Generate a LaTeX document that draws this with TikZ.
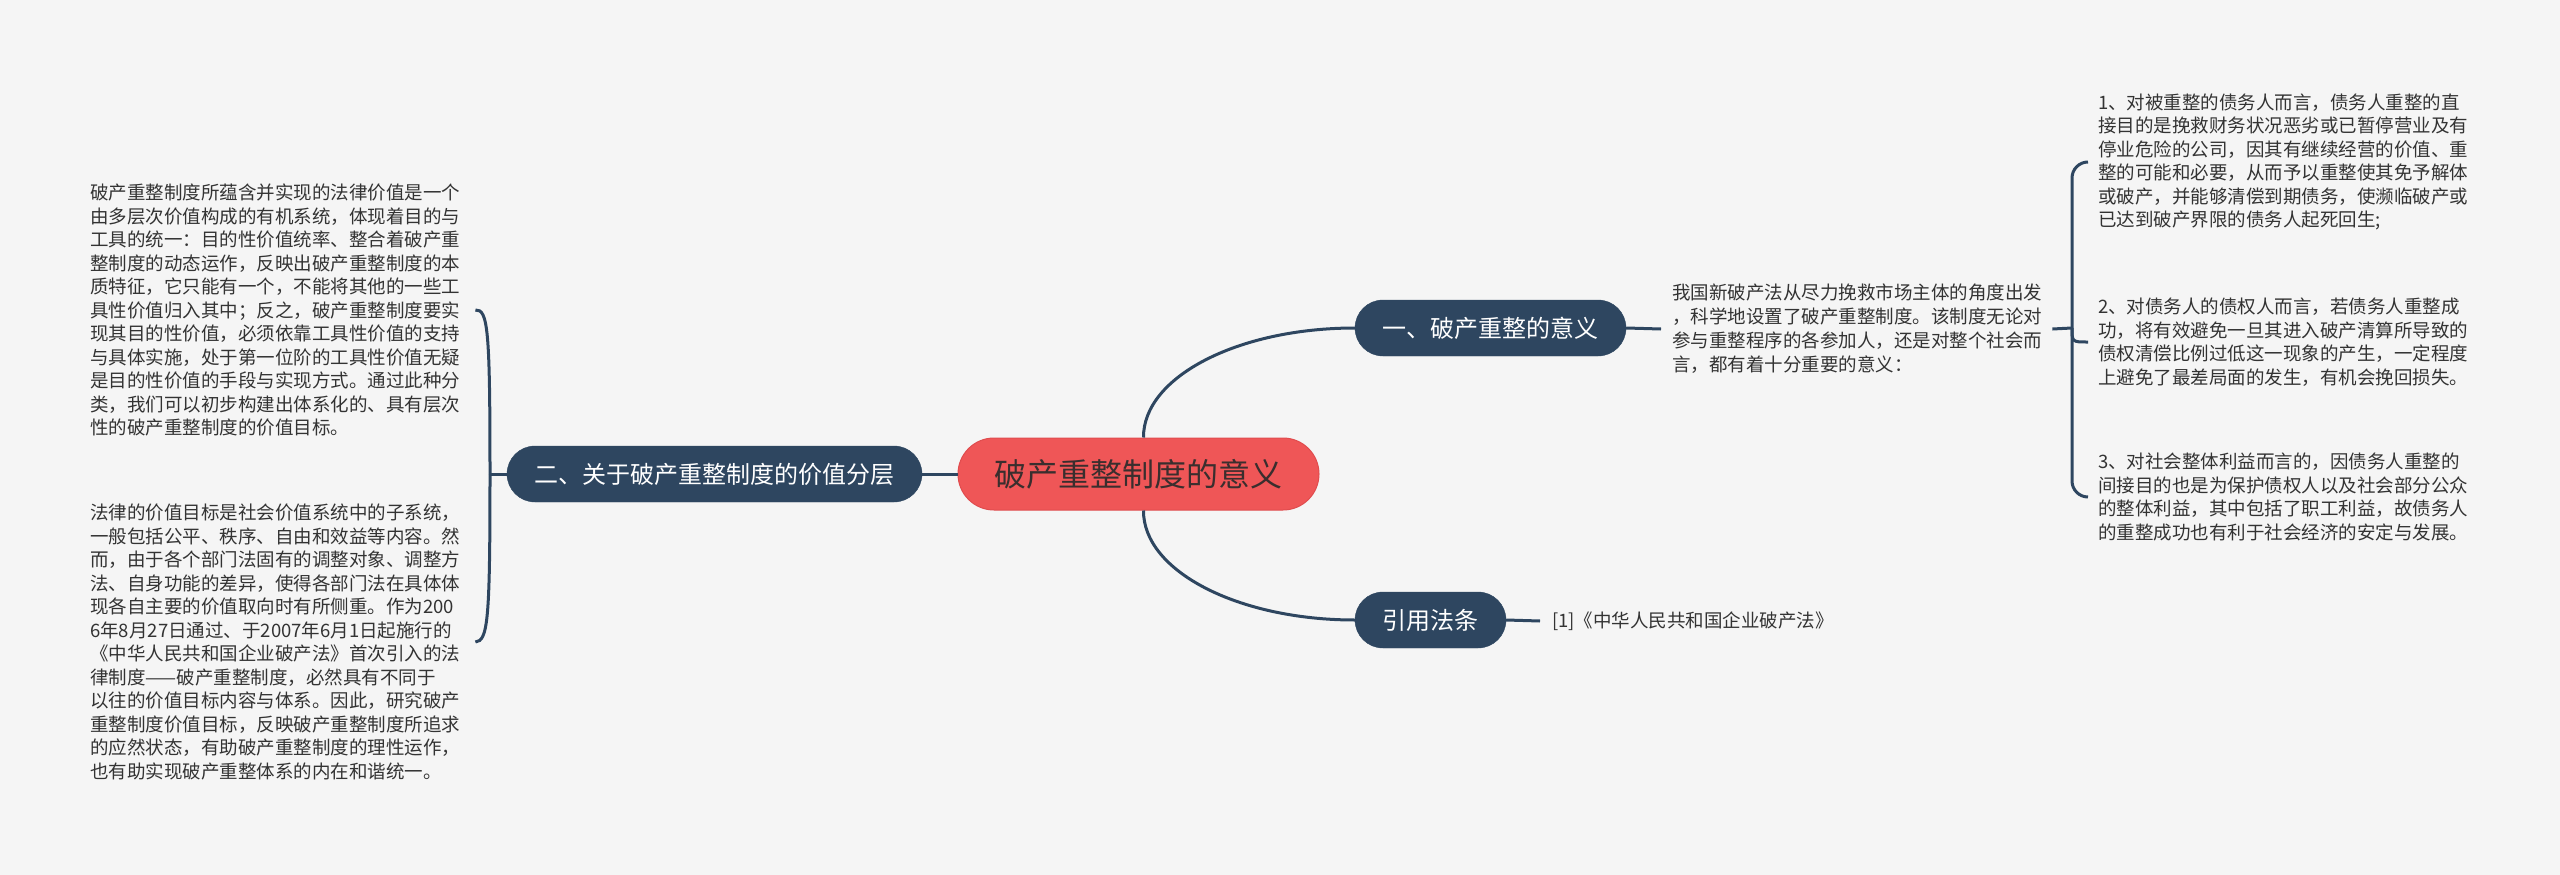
\documentclass[tikz,border=0pt]{standalone}
\usepackage{fontspec}
\setmainfont{Noto Sans CJK SC}
\definecolor{bg}{HTML}{F5F5F5}
\definecolor{dark}{HTML}{2E4660}
\definecolor{rootred}{HTML}{EF5657}
\definecolor{rootedge}{HTML}{E04C4E}
\definecolor{roottext}{HTML}{3A2E2E}
\definecolor{bodytext}{HTML}{333333}
\begin{document}
\begin{tikzpicture}[x=1pt,y=-1pt,
  body/.style={font=\fontsize{18.5}{23.5}\selectfont, text=bodytext, align=left, inner sep=0pt, anchor=west},
  topic/.style={fill=dark, draw=dark, text=white, rounded corners=28pt, minimum height=56pt, inner sep=0pt, font=\fontsize{24}{28}\selectfont},
  rootnode/.style={fill=rootred, draw=rootedge, line width=1pt, text=roottext, rounded corners=36pt, minimum height=72pt, minimum width=361pt, inner sep=0pt, font=\fontsize{32}{36}\selectfont},
  conn/.style={draw=dark, line width=3pt}]
\useasboundingbox (0,0) rectangle (2560,875);
\fill[bg] (0,0) rectangle (2560,875);

\node[rootnode] (root) at (1138.5,474) {破产重整制度的意义};
\node[topic, minimum width=415pt] (n2) at (714.5,474) {二、关于破产重整制度的价值分层};
\node[topic, minimum width=271pt] (n1) at (1490.5,328) {一、破产重整的意义};
\node[topic, minimum width=151pt] (n3) at (1430.5,620) {引用法条};

\node[body] (b1) at (90,310) {破产重整制度所蕴含并实现的法律价值是一个\\
由多层次价值构成的有机系统，体现着目的与\\
工具的统一：目的性价值统率、整合着破产重\\
整制度的动态运作，反映出破产重整制度的本\\
质特征，它只能有一个，不能将其他的一些工\\
具性价值归入其中；反之，破产重整制度要实\\
现其目的性价值，必须依靠工具性价值的支持\\
与具体实施，处于第一位阶的工具性价值无疑\\
是目的性价值的手段与实现方式。通过此种分\\
类，我们可以初步构建出体系化的、具有层次\\
性的破产重整制度的价值目标。};

\node[body] (b2) at (90,642) {法律的价值目标是社会价值系统中的子系统，\\
一般包括公平、秩序、自由和效益等内容。然\\
而，由于各个部门法固有的调整对象、调整方\\
法、自身功能的差异，使得各部门法在具体体\\
现各自主要的价值取向时有所侧重。作为200\\
6年8月27日通过、于2007年6月1日起施行的\\
《中华人民共和国企业破产法》首次引入的法\\
律制度——破产重整制度，必然具有不同于\\
以往的价值目标内容与体系。因此，研究破产\\
重整制度价值目标，反映破产重整制度所追求\\
的应然状态，有助破产重整制度的理性运作，\\
也有助实现破产重整体系的内在和谐统一。};

\node[body, font=\fontsize{18.5}{24}\selectfont] (t1) at (1672,329) {我国新破产法从尽力挽救市场主体的角度出发\\
，科学地设置了破产重整制度。该制度无论对\\
参与重整程序的各参加人，还是对整个社会而\\
言，都有着十分重要的意义：};

\node[body] (i1) at (2098,162) {1、对被重整的债务人而言，债务人重整的直\\
接目的是挽救财务状况恶劣或已暂停营业及有\\
停业危险的公司，因其有继续经营的价值、重\\
整的可能和必要，从而予以重整使其免予解体\\
或破产，并能够清偿到期债务，使濒临破产或\\
已达到破产界限的债务人起死回生;};

\node[body] (i2) at (2098,342) {2、对债务人的债权人而言，若债务人重整成\\
功，将有效避免一旦其进入破产清算所导致的\\
债权清偿比例过低这一现象的产生，一定程度\\
上避免了最差局面的发生，有机会挽回损失。};

\node[body] (i3) at (2098,497) {3、对社会整体利益而言的，因债务人重整的\\
间接目的也是为保护债权人以及社会部分公众\\
的整体利益，其中包括了职工利益，故债务人\\
的重整成功也有利于社会经济的安定与发展。};

\node[body] (r1) at (1552,621) {[1]《中华人民共和国企业破产法》};

% connectors
\draw[conn] (root.west) -- (n2.east);
\coordinate (L) at (490,474);
\draw[conn] (n2.west) -- (L);
\draw[conn] (L) .. controls (490,330) and (488,309) .. ([xshift=15pt]b1.east);
\draw[conn] (L) .. controls (490,620) and (488,641) .. ([xshift=15pt]b2.east);
\draw[conn] ([xshift=5pt]root.north) .. controls (1143,377) and (1238,328) .. (n1.west);
\draw[conn] ([xshift=5pt]root.south) .. controls (1143,571) and (1238,620) .. (n3.west);
\draw[conn] (n1.east) -- ([xshift=-11pt]t1.west);
\draw[conn] (n3.east) -- ([xshift=-12pt]r1.west);
\coordinate (R) at (2072,328);
\draw[conn] ([xshift=10pt]t1.east) -- (R);
\draw[conn, rounded corners=16pt] (R) |- ([xshift=-10pt]i1.west);
\draw[conn, rounded corners=16pt] (R) |- ([xshift=-10pt]i3.west);
\draw[conn] (R) .. controls (2072,342) .. ([xshift=-10pt]i2.west);
\end{tikzpicture}
\end{document}
